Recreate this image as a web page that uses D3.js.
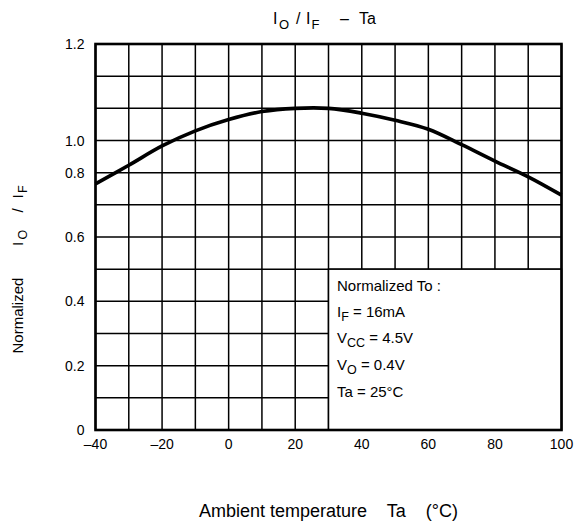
<!DOCTYPE html>
<html><head><meta charset="utf-8">
<script src="https://cdn.jsdelivr.net/npm/d3@7"></script>
<style>
html,body{margin:0;padding:0;background:#fff;}
text{font-family:"Liberation Sans",Arial,sans-serif;fill:#000;}
</style></head>
<body>
<svg id="chart" width="584" height="524"></svg>
<script>
// ---- data ----
const temps = [-40,-30,-20,-10,0,10,20,30,40,50,60,70,80,90,100];
const ratio = [0.765,0.823,0.883,0.930,0.965,0.990,1.000,1.000,0.985,0.963,0.935,0.887,0.836,0.787,0.730];
const xTickValues = [-40,-20,0,20,40,60,80,100];
const xTickLabels = ["\u201340","\u201320","0","20","40","60","80","100"];
const yTickValues = [0,0.2,0.4,0.6,0.8,0.9,1.2];
const yTickLabels = ["0","0.2","0.4","0.6","0.8","1.0","1.2"];
const xGrid = d3.range(-40,101,10);
const yGrid = d3.range(0,13).map(i=>i/10);

const svg = d3.select("#chart");
const L=95.5,R=561.5,T=44,B=430;
const x = d3.scaleLinear().domain([-40,100]).range([L,R]);
const y = d3.scaleLinear().domain([0,1.2]).range([B,T]);

// grid
const g = svg.append("g");
g.selectAll("line.v").data(xGrid).join("line")
  .attr("x1",d=>x(d)).attr("x2",d=>x(d)).attr("y1",T).attr("y2",B)
  .attr("stroke","#000").attr("stroke-width",1.5);
g.selectAll("line.h").data(yGrid).join("line")
  .attr("y1",d=>y(d)).attr("y2",d=>y(d)).attr("x1",L).attr("x2",R)
  .attr("stroke","#000").attr("stroke-width",1.5);

// curve
svg.append("path").datum(temps.map((t,i)=>[t,ratio[i]]))
  .attr("d",d3.line().x(d=>x(d[0])).y(d=>y(d[1])).curve(d3.curveCatmullRom))
  .attr("fill","none").attr("stroke","#000").attr("stroke-width",3.6);

// legend box
svg.append("rect").attr("x",x(30)).attr("y",y(0.5))
  .attr("width",x(100)-x(30)).attr("height",y(0)-y(0.5))
  .attr("fill","#fff").attr("stroke","#000").attr("stroke-width",1.5);

// frame
svg.append("rect").attr("x",L).attr("y",T).attr("width",R-L).attr("height",B-T)
  .attr("fill","none").attr("stroke","#000").attr("stroke-width",2.6);

// legend text
const lx = x(30)+8.5;
const leg = svg.append("g").style("font-size","15px");
leg.append("text").attr("x",lx).attr("y",290.5).text("Normalized To :");
function line2(yy, main, sub, rest){
  const t = leg.append("text").attr("x",lx).attr("y",yy);
  t.append("tspan").text(main);
  t.append("tspan").text(sub).style("font-size","12.5px").attr("dy",4);
  t.append("tspan").text(rest).attr("dy",-4);
}
line2(316.5,"I","F"," = 16mA");
line2(343,"V","CC"," = 4.5V");
line2(370,"V","O"," = 0.4V");
leg.append("text").attr("x",lx).attr("y",396.5).text("Ta = 25°C");

// axes tick labels
const xa = svg.append("g").style("font-size","14px").attr("text-anchor","middle");
xa.selectAll("text").data(xTickValues).join("text")
  .attr("x",d=>x(d)).attr("y",448.5).text((d,i)=>xTickLabels[i]);
const ya = svg.append("g").style("font-size","14px").attr("text-anchor","end");
ya.selectAll("text").data(yTickValues).join("text")
  .attr("x",84.5).attr("y",d=>y(d)+5).text((d,i)=>yTickLabels[i]);

// x title
svg.append("text").attr("x",199).attr("y",516.5).style("font-size","18px")
  .attr("xml:space","preserve").style("white-space","pre")
  .text("Ambient temperature    Ta    (°C)");

// main title
const tt = svg.append("text").attr("y",24).style("font-size","16px");
tt.append("tspan").attr("x",273).text("I");
tt.append("tspan").attr("x",279).attr("dy",4.5).style("font-size","13px").text("O");
tt.append("tspan").attr("x",296).attr("dy",-4.5).text("/");
tt.append("tspan").attr("x",306).text("I");
tt.append("tspan").attr("x",311.5).attr("dy",4.5).style("font-size","13px").text("F");
tt.append("tspan").attr("x",340).attr("dy",-4.5).text("\u2013");
tt.append("tspan").attr("x",359).text("Ta");

// y title (rotated)
const yt = svg.append("text").attr("transform","translate(23,353.5) rotate(-90)").style("font-size","15px");
yt.append("tspan").attr("x",0).text("Normalized");
yt.append("tspan").attr("x",107.5).text("I");
yt.append("tspan").attr("x",114).attr("dy",4).style("font-size","12.5px").text("O");
yt.append("tspan").attr("x",141).attr("dy",-4).text("/");
yt.append("tspan").attr("x",155).text("I");
yt.append("tspan").attr("x",160.5).attr("dy",4).style("font-size","12.5px").text("F");
</script>
</body></html>
